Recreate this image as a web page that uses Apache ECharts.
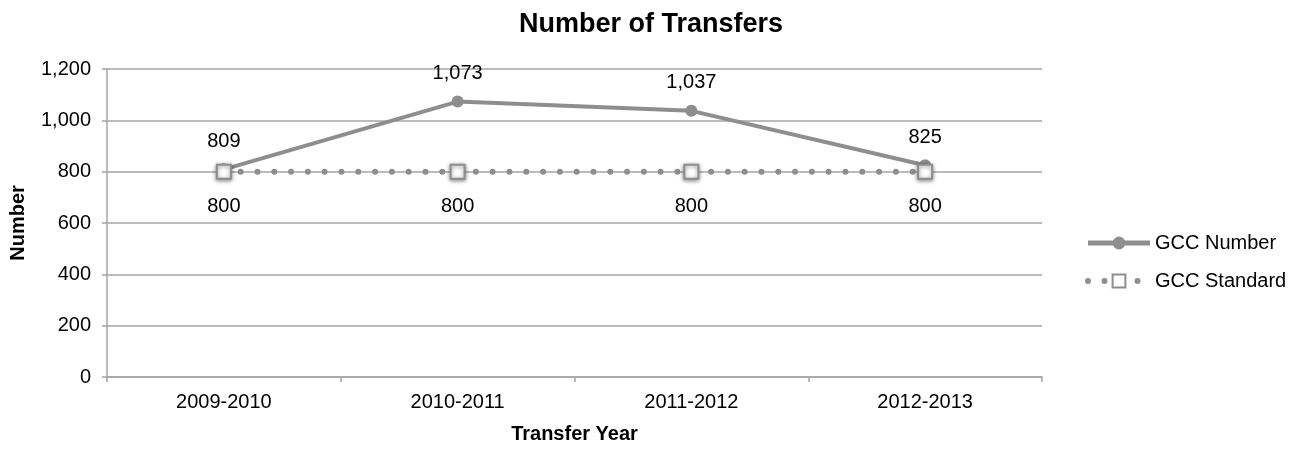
<!DOCTYPE html>
<html><head><meta charset="utf-8">
<script src="https://cdn.jsdelivr.net/npm/echarts@6/dist/echarts.min.js"></script>
<style>html,body{margin:0;padding:0;background:#fff}#c{width:1301px;height:450px}</style>
</head><body><div id="c"></div>
<script>
const categories = ['2009-2010','2010-2011','2011-2012','2012-2013'];
const gccNumber = [809, 1073, 1037, 825];
const gccStandard = [800, 800, 800, 800];
const yTicks = [0, 200, 400, 600, 800, 1000, 1200];

const chart = echarts.init(document.getElementById('c'));
const F = 'Liberation Sans, Arial, Helvetica, sans-serif';
const gray = '#8e8e8e';
const axisGray = '#a4a4a4';
chart.setOption({
  animation: false,
  textStyle: {fontFamily: F},
  title: {text: 'Number of Transfers', left: 646, textAlign: 'center', top: 6,
    textStyle: {fontFamily: F, fontSize: 27, fontWeight: 'bold', color: '#000'}},
  grid: {left: 107, right: 259, top: 69, bottom: 73},
  legend: {
    orient: 'vertical', left: 1085, top: 233, padding: 0, itemGap: 18, itemWidth: 62, itemHeight: 16,
    textStyle: {fontFamily: F, fontSize: 20, color: '#000'},
    data: [
      {name: 'GCC Number', lineStyle: {width: 5, color: gray}},
      {name: 'GCC Standard', lineStyle: {width: 6, color: gray, type: [0, 16.5], cap: 'round'}}
    ]
  },
  xAxis: {
    type: 'category', data: categories, boundaryGap: true,
    name: 'Transfer Year', nameLocation: 'middle', nameGap: 47,
    nameTextStyle: {fontFamily: F, fontSize: 20, fontWeight: 'bold', color: '#000'},
    axisLine: {lineStyle: {color: axisGray, width: 1.5}},
    axisTick: {show: true, length: 5, lineStyle: {color: axisGray, width: 1.5}},
    axisLabel: {fontFamily: F, fontSize: 20, color: '#000', margin: 15}
  },
  yAxis: {
    type: 'value', min: yTicks[0], max: yTicks[yTicks.length-1], interval: 200,
    name: 'Number', nameLocation: 'middle', nameGap: 79, nameRotate: 90,
    nameTextStyle: {fontFamily: F, fontSize: 20, fontWeight: 'bold', color: '#000'},
    axisLine: {show: true, lineStyle: {color: axisGray, width: 1.5}},
    axisTick: {show: true, length: 5, lineStyle: {color: axisGray, width: 1.5}},
    splitLine: {lineStyle: {color: axisGray, width: 1.5}},
    axisLabel: {fontFamily: F, fontSize: 20, color: '#000', margin: 16,
      formatter: v => v.toLocaleString('en-US')}
  },
  series: [
    {
      name: 'GCC Standard', type: 'line', data: gccStandard, z: 3,
      symbol: 'rect', symbolSize: 14,
      itemStyle: {color: '#fff', borderColor: '#8e8e8e', borderWidth: 2,
        shadowColor: 'rgba(0,0,0,0.45)', shadowBlur: 4, shadowOffsetY: 1},
      lineStyle: {color: gray, width: 6, type: [0, 16.8], cap: 'round'},
      label: {show: true, position: 'bottom', distance: 17, fontFamily: F, fontSize: 20, color: '#000',
        formatter: p => p.value.toLocaleString('en-US')}
    },
    {
      name: 'GCC Number', type: 'line', data: gccNumber, z: 2,
      symbol: 'circle', symbolSize: 12,
      itemStyle: {color: gray},
      lineStyle: {color: gray, width: 4},
      label: {show: true, position: 'top', distance: 12, fontFamily: F, fontSize: 20, color: '#000',
        formatter: p => p.value.toLocaleString('en-US')}
    }
  ]
});
</script></body></html>
